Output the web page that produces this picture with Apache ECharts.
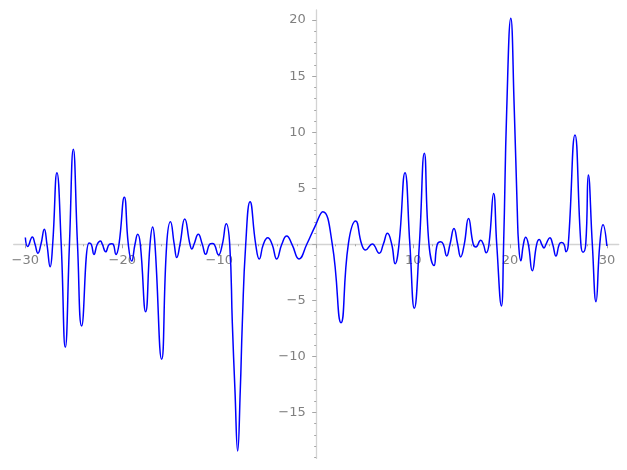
<!DOCTYPE html>
<html><head><meta charset="utf-8">
<script src="https://cdn.jsdelivr.net/npm/echarts@6/dist/echarts.min.js"></script>
<style>html,body{margin:0;padding:0;background:#fff}#c{width:627px;height:470px}</style>
</head><body><div id="c"></div>
<script>
// curve samples (x, y)
const curveX = [
  -30.0, -29.76, -29.28, -29.0, -28.7, -28.39, -28.04, -27.77, -27.44, -27.18,
  -26.74, -26.3, -25.88, -25.45, -25.05, -24.62, -24.19, -23.43, -23.2,
  -22.92, -22.58, -22.25, -22.06, -21.71, -21.34, -21.1, -20.93, -20.65, -20.34,
  -19.79, -19.38, -19.03, -18.69, -18.41, -18.14, -17.59, -17.14, -16.87, -16.63,
  -15.94, -15.42, -15.03, -14.64, -14.38, -14.05, -13.56, -13.02, -12.82, -12.6,
  -12.16, -11.75, -11.4, -10.99, -10.72, -10.51, -10.07, -9.68, -9.28, -8.92,
  -8.65, -8.38, -8.1, -7.83, -7.62, -7.27, -6.82, -6.24, -5.87, -5.45,
  -5.0, -4.55, -4.07, -3.55, -3.04, -2.5, -1.77, -0.97, -0.12,
  0.68, 1.66, 2.56, 3.31, 4.07, 4.69, 5.09, 5.78, 6.5, 6.92,
  7.35, 7.79, 8.14, 8.54, 9.16, 9.66, 10.12, 10.64, 11.15, 11.63,
  12.15, 12.49, 12.84, 13.11, 13.46, 13.8, 14.21, 14.59, 14.9, 15.27,
  15.71, 16.2, 16.47, 16.97, 17.24, 17.53, 17.82, 18.3, 18.62, 19.1,
  19.33, 19.65, 20.07, 20.43, 20.74, 20.88, 21.1, 21.37, 21.61, 21.88,
  22.29, 22.74, 23.01, 23.26, 23.5, 23.7, 24.1, 24.39, 24.73, 25.07,
  25.3, 25.56, 25.77, 26.0, 26.69, 27.3, 27.52, 27.8, 28.07, 28.48,
  28.86, 29.25, 29.58, 29.98
];
const curveY = [
  0.6, -0.2, 0.66, 0, -0.8, 0, 1.34, 0, -2.0, 0,
  6.39, 0, -9.19, 0, 8.47, 0, -7.29, 0.12, 0,
  -0.9, 0, 0.29, 0, -0.67, 0, 0.04, 0, -0.9, 0,
  4.19, 0, -1.5, 0, 0.89, 0, -6.01, 0, 1.55, 0,
  -10.26, 0, 2.02, 0, -1.18, 0, 2.26, 0, -0.42, 0,
  0.89, 0, -0.89, 0, 0.07, 0, -0.95, 0, 1.84, 0,
  -7.05, -13.0, -18.45, -13.0, -7.05, 0, 3.8, 0, -1.31, 0,
  0.59, 0, -1.31, 0, 0.74, 0, -1.31, 0, 1.6,
  2.91, 0, -6.99, 0, 2.08, 0, -0.51, 0.03, -0.8, 0,
  0.98, 0, -1.73, 0, 6.39, 0, -5.71, 0, 8.12, 0,
  -1.9, 0, 0.23, 0, -1.04, 0, 1.4, 0, -1.13, 0,
  2.29, 0, -0.24, 0.35, 0, -0.75, 0, 4.52, 0, -5.5,
  0, 12.0, 20.16, 12.0, 3.0, 0, -1.47, 0, 0.62, 0,
  -2.37, 0, 0.42, 0, -0.33, 0, 0.59, 0, -1.04, 0,
  0.16, 0, -0.66, 0, 9.75, 0, -0.7, 0, 6.18, 0,
  -5.12, 0, 1.75, -0.15
];
const xMajorTicks = [-30, -20, -10, 0, 10, 20, 30];
const xTickLabels = [-30, -20, -10, 10, 20, 30];
const xMinorTicks = [-30, -28, -26, -24, -22, -20, -18, -16, -14, -12, -10, -8, -6, -4, -2, 0,
  2, 4, 6, 8, 10, 12, 14, 16, 18, 20, 22, 24, 26, 28, 30];
const yMajorTicks = [-15, -10, -5, 0, 5, 10, 15, 20];
const yTickLabels = [-15, -10, -5, 5, 10, 15, 20];
const yMinorTicks = [-19, -18, -17, -16, -15, -14, -13, -12, -11, -10, -9, -8, -7, -6, -5, -4, -3, -2, -1, 0,
  1, 2, 3, 4, 5, 6, 7, 8, 9, 10, 11, 12, 13, 14, 15, 16, 17, 18, 19, 20];

const fmt = v => (v < 0 ? '\u2212' + Math.abs(v) : String(v));
const AXIS = '#d3d3d3', TICK = '#a6a6a6', LABEL = '#808080';
const FONT = 'DejaVu Sans';

const data = curveX.map((x, i) => [x, curveY[i]]);
const chart = echarts.init(document.getElementById('c'), null, {renderer: 'canvas'});

function xAxisDef(major) {
  return {
    type: 'value', min: -31.2, max: 31.2, position: 'bottom',
    axisLine: {show: true, onZero: true, lineStyle: {color: major ? AXIS : 'rgba(0,0,0,0)', width: 1.3}},
    axisTick: {show: true, inside: false, length: major ? 4 : 2, customValues: major ? xMajorTicks : xMinorTicks,
      lineStyle: {color: TICK, width: 1}},
    axisLabel: {show: false},
    splitLine: {show: false}
  };
}
function yAxisDef(major) {
  return {
    type: 'value', min: -19.1, max: 20.9, position: 'left',
    axisLine: {show: true, onZero: true, lineStyle: {color: major ? AXIS : 'rgba(0,0,0,0)', width: 1.3}},
    axisTick: {show: true, inside: false, length: major ? 4 : 2, customValues: major ? yMajorTicks : yMinorTicks,
      lineStyle: {color: TICK, width: 1}},
    axisLabel: {show: false},
    splitLine: {show: false}
  };
}
const labelStyle = {color: LABEL, fontSize: 13, fontFamily: FONT, opacity: 1};

chart.setOption({
  animation: false,
  backgroundColor: '#ffffff',
  grid: {left: 13.7, right: 8.3, top: 10, bottom: 11.6, containLabel: false, outerBoundsMode: 'none'},
  xAxis: [xAxisDef(true), xAxisDef(false)],
  yAxis: [yAxisDef(true), yAxisDef(false)],
  series: [{
    type: 'line', xAxisIndex: 0, yAxisIndex: 0, data: data,
    showSymbol: false, smooth: 0.5, clip: false, z: 5,
    lineStyle: {color: '#0000ff', width: 1.5}
  }, {
    type: 'scatter', silent: true, symbolSize: 1, itemStyle: {color: 'rgba(255,255,255,0)'},
    data: xTickLabels.map(v => [v, 0]),
    label: Object.assign({show: true, position: 'bottom', distance: 9.5,
      formatter: p => fmt(p.value[0])}, labelStyle)
  }, {
    type: 'scatter', silent: true, symbolSize: 1, itemStyle: {color: 'rgba(255,255,255,0)'},
    data: yTickLabels.map(v => [0, v]),
    label: Object.assign({show: true, position: 'left', distance: 10,
      formatter: p => fmt(p.value[1])}, labelStyle)
  }]
});
</script>
</body></html>
